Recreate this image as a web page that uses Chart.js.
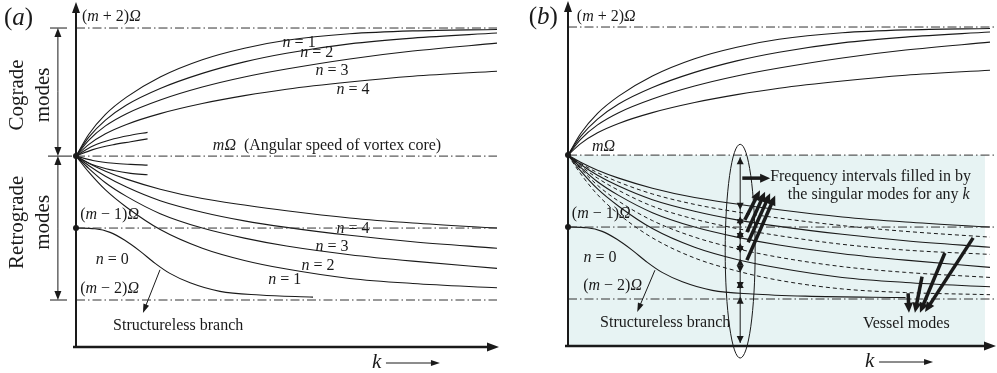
<!DOCTYPE html>
<html><head><meta charset="utf-8">
<script src="https://cdn.jsdelivr.net/npm/chart.js@4.4.0/dist/chart.umd.min.js"></script>
<style>
body{margin:0;background:#fff;}
#wrap{position:relative;width:997px;height:373px;overflow:hidden;}
canvas{position:absolute;}
</style></head><body>
<div id="wrap">
<canvas id="panel-a" width="505" height="373" style="left:0;top:0"></canvas>
<canvas id="panel-b" width="500" height="373" style="left:497px;top:-1px"></canvas>
</div>
<script>
// k axis samples and frequencies (omega/Omega - m)
const kGrid = [0, 0.3, 0.7, 1.2, 2, 3, 4, 5, 6.5, 8, 10];
const coN1 = [0, 0.30, 0.58, 0.82, 1.10, 1.34, 1.50, 1.61, 1.70, 1.74, 1.76];
const coN2 = [0, 0.26, 0.50, 0.71, 0.94, 1.15, 1.31, 1.43, 1.56, 1.64, 1.71];
const coN3 = [0, 0.22, 0.42, 0.59, 0.78, 0.96, 1.10, 1.21, 1.35, 1.46, 1.57];
const coN4 = [0, 0.16, 0.31, 0.44, 0.59, 0.73, 0.84, 0.93, 1.03, 1.11, 1.18];
const reN1 = [0, -0.22, -0.47, -0.71, -1.02, -1.28, -1.45, -1.57, -1.70, -1.77, -1.83];
const reN2 = [0, -0.17, -0.37, -0.56, -0.80, -1.00, -1.14, -1.25, -1.37, -1.46, -1.56];
const reN3 = [0, -0.13, -0.28, -0.43, -0.62, -0.78, -0.90, -0.99, -1.10, -1.19, -1.28];
const reN4 = [0, -0.10, -0.21, -0.32, -0.46, -0.59, -0.68, -0.76, -0.86, -0.93, -1.00];
// dashed curves in panel (b)
const sgD1 = [0, -0.115, -0.245, -0.375, -0.54, -0.685, -0.79, -0.875, -0.98, -1.06, -1.14];
const sgD2 = [0, -0.15, -0.32, -0.49, -0.71, -0.89, -1.02, -1.12, -1.24, -1.32, -1.38];
const sgD3 = [0, -0.19, -0.42, -0.64, -0.91, -1.14, -1.30, -1.42, -1.55, -1.63, -1.70];
const sgD4 = [0, -0.26, -0.55, -0.82, -1.15, -1.43, -1.61, -1.74, -1.86, -1.91, -1.94];
// short branches near m Omega in panel (a)
const shortK = [0, 0.4, 0.9, 1.3, 1.7];
const shortUp1 = [0, 0.14, 0.24, 0.29, 0.33];
const shortUp2 = [0, 0.09, 0.16, 0.20, 0.24];
const shortDn1 = [0, -0.06, -0.10, -0.115, -0.125];
const shortDn2 = [0, -0.12, -0.20, -0.24, -0.26];
// structureless branch n = 0 (panel b draws it a little further in k)
const n0K = [0, 0.45, 0.81, 1.16, 1.52, 1.88, 2.23, 2.71, 3.42, 4.37, 5.63];
const n0Vals = [-1.0, -1.01, -1.06, -1.17, -1.32, -1.49, -1.63, -1.76, -1.88, -1.93, -1.96];
const n0KB = [0, 0.45, 0.81, 1.16, 1.52, 1.88, 2.23, 2.71, 3.42, 4.37, 5.63, 8.0];
const n0ValsB = [-1.0, -1.01, -1.06, -1.17, -1.32, -1.49, -1.63, -1.76, -1.88, -1.93, -1.96, -1.98];
// reference frequencies
const levelVals = [1.78, 0, -1, -2];
// singular-mode intervals at the ellipse, panel (b)
const intervalK = 4.08;
const intervalHi = [-0.03, -0.85, -1.04, -1.22, -1.44, -1.75, -1.97];
const intervalLo = [-0.76, -0.99, -1.18, -1.36, -1.63, -1.86, -2.61];
// vessel mode arrows, panel (b)
const vesselFromK = [8.06, 8.39, 8.93, 9.60];
const vesselFromV = [-1.92, -1.69, -1.36, -1.15];
const vesselToK = [8.08, 8.22, 8.34, 8.46];
const vesselToV = [-2.19, -2.19, -2.19, -2.18];

const INK = '#1a1a1a';
const SERIF = '"Liberation Serif", "Times New Roman", serif';
const FS = 16;

function pts(xs, ys) { return xs.map((x, i) => ({ x: x, y: ys[i] })); }
function curve(xs, ys, extra) {
  return Object.assign({ data: pts(xs, ys), borderColor: INK, borderWidth: 1.1, pointRadius: 0,
    cubicInterpolationMode: 'monotone', fill: false }, extra || {});
}
function level(v, kEnd) {
  return { data: [{ x: 0, y: v }, { x: kEnd, y: v }], borderColor: '#333', borderWidth: 1,
    borderDash: [9, 3, 1.5, 3], pointRadius: 0, fill: false, clip: false };
}

// text with italic pieces: parts = [[text, italic], ...]
function rich(ctx, parts, x, y, size, align) {
  let w = 0;
  parts.forEach(p => { ctx.font = (p[1] ? 'italic ' : '') + size + 'px ' + SERIF; w += ctx.measureText(p[0]).width; });
  let cx = align === 'center' ? x - w / 2 : (align === 'right' ? x - w : x);
  ctx.textAlign = 'left';
  ctx.textBaseline = 'middle';
  ctx.fillStyle = INK;
  parts.forEach(p => {
    ctx.font = (p[1] ? 'italic ' : '') + size + 'px ' + SERIF;
    ctx.fillText(p[0], cx, y);
    cx += ctx.measureText(p[0]).width;
  });
}
function mLabel(ctx, op, x, y) {
  rich(ctx, [['(', false], ['m', true], [' ' + op + ')', false], ['Ω', true]], x, y, FS, 'left');
}

function head(ctx, x1, y1, x2, y2, len, wid) {
  const a = Math.atan2(y2 - y1, x2 - x1);
  ctx.beginPath();
  ctx.moveTo(x2, y2);
  ctx.lineTo(x2 - len * Math.cos(a) + wid / 2 * Math.sin(a), y2 - len * Math.sin(a) - wid / 2 * Math.cos(a));
  ctx.lineTo(x2 - len * Math.cos(a) - wid / 2 * Math.sin(a), y2 - len * Math.sin(a) + wid / 2 * Math.cos(a));
  ctx.closePath();
  ctx.fill();
}
function arrow(ctx, x1, y1, x2, y2, lw, len, wid) {
  const a = Math.atan2(y2 - y1, x2 - x1);
  ctx.lineWidth = lw;
  ctx.beginPath();
  ctx.moveTo(x1, y1);
  ctx.lineTo(x2 - len * 0.7 * Math.cos(a), y2 - len * 0.7 * Math.sin(a));
  ctx.stroke();
  head(ctx, x1, y1, x2, y2, len, wid);
}

function axes(chart, tipX, kAt) {
  const ctx = chart.ctx, xs = chart.scales.x, ys = chart.scales.y;
  const x0 = xs.getPixelForValue(0), yb = ys.getPixelForValue(ys.min);
  ctx.save();
  ctx.strokeStyle = INK; ctx.fillStyle = INK;
  ctx.lineWidth = 2;
  ctx.beginPath(); ctx.moveTo(x0, yb + 1); ctx.lineTo(x0, 10); ctx.stroke();
  head(ctx, x0, 50, x0, 2, 11, 8);
  ctx.lineWidth = 2.5;
  ctx.beginPath(); ctx.moveTo(x0 - 3, yb); ctx.lineTo(tipX - 8, yb); ctx.stroke();
  head(ctx, 0, yb, tipX, yb, 12, 9);
  [0, -1].forEach(v => {
    ctx.beginPath(); ctx.arc(x0, ys.getPixelForValue(v), 3, 0, Math.PI * 2); ctx.fill();
  });
  // k label
  const kx = xs.getPixelForValue(kAt);
  const ky = yb + 15;
  rich(ctx, [['k', true]], kx, ky, 21, 'left');
  ctx.strokeStyle = INK; ctx.fillStyle = INK;
  arrow(ctx, kx + 14, ky + 1, kx + 68, ky + 1, 1, 9, 6);
  ctx.restore();
}

function makeChart(id, datasets, padLeft, padRight, drawFront, drawBack) {
  return new Chart(document.getElementById(id), {
    type: 'line',
    data: { datasets: datasets },
    options: {
      responsive: false, animation: false, devicePixelRatio: 1,
      layout: { padding: { left: padLeft, right: padRight, top: 5, bottom: 26 } },
      plugins: { legend: { display: false }, tooltip: { enabled: false } },
      scales: {
        x: { type: 'linear', min: 0, max: 10, display: false },
        y: { type: 'linear', min: -2.653, max: 2.1, display: false }
      }
    },
    plugins: [{
      id: 'sketch-' + id,
      beforeDatasetsDraw(chart) { if (drawBack) drawBack(chart); },
      afterDatasetsDraw(chart) { drawFront(chart); }
    }]
  });
}

// ---------- panel (a)
const dsA = [
  ...levelVals.map(v => level(v, 10)),
  curve(kGrid, coN1), curve(kGrid, coN2), curve(kGrid, coN3), curve(kGrid, coN4),
  curve(kGrid, reN1), curve(kGrid, reN2), curve(kGrid, reN3), curve(kGrid, reN4),
  curve(shortK, shortUp1), curve(shortK, shortUp2), curve(shortK, shortDn1), curve(shortK, shortDn2),
  curve(n0K, n0Vals)
];

makeChart('panel-a', dsA, 76, 8, function (chart) {
  const ctx = chart.ctx, xs = chart.scales.x, ys = chart.scales.y;
  const X = k => xs.getPixelForValue(k), Y = v => ys.getPixelForValue(v);
  axes(chart, 499, 7.03);
  ctx.save();
  ctx.strokeStyle = INK; ctx.fillStyle = INK;
  rich(ctx, [['(', false], ['a', true], [')', false]], 4, Y(1.92), 25, 'left');
  mLabel(ctx, '+ 2', X(0.14), Y(1.93));
  rich(ctx, [['m', true], ['Ω', true], ['  (Angular speed of vortex core)', false]], X(3.25), Y(0.15), FS, 'left');
  mLabel(ctx, '− 1', X(0.1), Y(-0.81));
  mLabel(ctx, '− 2', X(0.1), Y(-1.85));
  const nLab = [[1, 5.30, 1.58], [2, 5.72, 1.43], [3, 6.08, 1.19], [4, 6.58, 0.92],
                [4, 6.58, -1.01], [3, 6.08, -1.26], [2, 5.75, -1.53], [1, 4.96, -1.72], [0, 0.86, -1.44]];
  nLab.forEach(l => rich(ctx, [['n', true], [' = ' + l[0], false]], X(l[1]), Y(l[2]), FS, 'center'));
  rich(ctx, [['Structureless branch', false]], X(0.88), Y(-2.36), FS, 'left');
  ctx.strokeStyle = INK; ctx.fillStyle = INK;
  arrow(ctx, X(1.995), Y(-1.58), X(1.59), Y(-2.18), 1, 9, 6);
  // mode-family brackets on the left
  const bx = X(-0.43);
  ctx.lineWidth = 1;
  [[1.78, 50, 67], [0, 48, 72], [-2, 50, 67]].forEach(t => {
    ctx.beginPath(); ctx.moveTo(t[1], Y(t[0])); ctx.lineTo(t[2], Y(t[0])); ctx.stroke();
  });
  arrow(ctx, bx, Y(0.9), bx, Y(1.78), 1, 9, 7);
  arrow(ctx, bx, Y(0.9), bx, Y(0), 1, 9, 7);
  arrow(ctx, bx, Y(-1), bx, Y(0), 1, 9, 7);
  arrow(ctx, bx, Y(-1), bx, Y(-2), 1, 9, 7);
  [['Cograde', -1.40, 0.85], ['modes', -0.78, 0.85], ['Retrograde', -1.40, -0.92], ['modes', -0.78, -0.92]].forEach(t => {
    ctx.save();
    ctx.translate(X(t[1]), Y(t[2]));
    ctx.rotate(-Math.PI / 2);
    rich(ctx, [[t[0], false]], 0, 0, 21, 'center');
    ctx.restore();
  });
  ctx.restore();
});

// ---------- panel (b)
const dashed = { borderDash: [4, 3], borderWidth: 1 };
const dsB = [
  ...levelVals.map(v => level(v, 10.15)),
  curve(kGrid, coN1), curve(kGrid, coN2), curve(kGrid, coN3), curve(kGrid, coN4),
  curve(kGrid, reN1), curve(kGrid, reN2), curve(kGrid, reN3), curve(kGrid, reN4),
  curve(kGrid, sgD1, dashed), curve(kGrid, sgD2, dashed), curve(kGrid, sgD3, dashed), curve(kGrid, sgD4, dashed),
  curve(n0KB, n0ValsB)
];

makeChart('panel-b', dsB, 71, 7, function (chart) {
  const ctx = chart.ctx, xs = chart.scales.x, ys = chart.scales.y;
  const X = k => xs.getPixelForValue(k), Y = v => ys.getPixelForValue(v);
  axes(chart, 499, 7.04);
  ctx.save();
  ctx.strokeStyle = INK; ctx.fillStyle = INK;
  rich(ctx, [['(', false], ['b', true], [')', false]], X(-0.93), Y(1.92), 25, 'left');
  mLabel(ctx, '+ 2', X(0.21), Y(1.92));
  rich(ctx, [['m', true], ['Ω', true]], X(0.57), Y(0.12), FS, 'left');
  mLabel(ctx, '− 1', X(0.09), Y(-0.81));
  mLabel(ctx, '− 2', X(0.36), Y(-1.81));
  rich(ctx, [['n', true], [' = 0', false]], X(0.76), Y(-1.43), FS, 'center');
  rich(ctx, [['Structureless branch', false]], X(0.76), Y(-2.33), FS, 'left');
  rich(ctx, [['Frequency intervals filled in by', false]], X(4.79), Y(-0.30), FS, 'left');
  rich(ctx, [['the singular modes for any ', false], ['k', true]], X(5.21), Y(-0.55), FS, 'left');
  rich(ctx, [['Vessel modes', false]], X(6.99), Y(-2.34), FS, 'left');
  ctx.strokeStyle = INK; ctx.fillStyle = INK;
  arrow(ctx, X(2.06), Y(-1.60), X(1.64), Y(-2.18), 1, 9, 6);
  // ellipse around the singular intervals
  ctx.lineWidth = 1;
  ctx.beginPath();
  ctx.ellipse(X(intervalK), (Y(0.15) + Y(-2.82)) / 2, (X(4.43) - X(3.72)) / 2, (Y(-2.82) - Y(0.15)) / 2, 0, 0, Math.PI * 2);
  ctx.stroke();
  const ix = X(intervalK);
  ctx.beginPath(); ctx.moveTo(ix, Y(intervalHi[0])); ctx.lineTo(ix, Y(intervalLo[intervalLo.length - 1])); ctx.stroke();
  intervalHi.forEach((v, i) => {
    const a = Y(v), b = Y(intervalLo[i]);
    head(ctx, ix, b, ix, a, 7, 7);
    head(ctx, ix, a, ix, b, 7, 7);
  });
  // thick arrows
  arrow(ctx, X(4.13), Y(-0.32), X(4.79), Y(-0.32), 3.5, 10, 9);
  [[4.19, -0.90, 4.55, -0.49], [4.24, -1.07, 4.67, -0.51], [4.27, -1.21, 4.79, -0.53], [4.24, -1.46, 4.91, -0.56]]
    .forEach(a => arrow(ctx, X(a[0]), Y(a[1]), X(a[2]), Y(a[3]), 3.5, 10, 9));
  vesselFromK.forEach((k, i) => arrow(ctx, X(k), Y(vesselFromV[i]), X(vesselToK[i]), Y(vesselToV[i]), 3.5, 10, 9));
  ctx.restore();
}, function (chart) {
  const ctx = chart.ctx, xs = chart.scales.x, ys = chart.scales.y;
  ctx.save();
  ctx.fillStyle = '#e7f3f3';
  const x0 = xs.getPixelForValue(0), y0 = ys.getPixelForValue(0);
  ctx.fillRect(x0, y0, xs.getPixelForValue(9.88) - x0, ys.getPixelForValue(ys.min) - y0);
  ctx.restore();
});
</script>
</body></html>
